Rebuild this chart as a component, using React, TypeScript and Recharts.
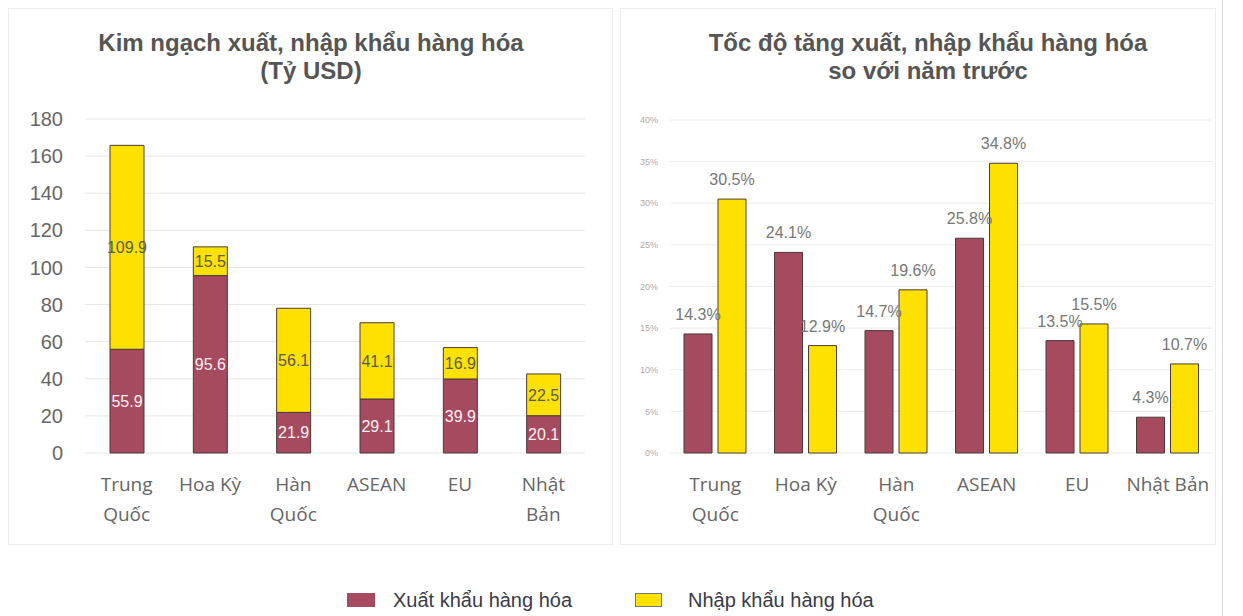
import { Bar, BarChart, CartesianGrid, LabelList, XAxis, YAxis } from 'recharts';

const categories = ['Trung Quốc', 'Hoa Kỳ', 'Hàn Quốc', 'ASEAN', 'EU', 'Nhật Bản'];
const leftTickLines = [['Trung', 'Quốc'], ['Hoa Kỳ'], ['Hàn', 'Quốc'], ['ASEAN'], ['EU'], ['Nhật', 'Bản']];
const rightTickLines = [['Trung', 'Quốc'], ['Hoa Kỳ'], ['Hàn', 'Quốc'], ['ASEAN'], ['EU'], ['Nhật Bản']];

// Kim ngạch (Tỷ USD)
const exportValue = [55.9, 95.6, 21.9, 29.1, 39.9, 20.1];
const importValue = [109.9, 15.5, 56.1, 41.1, 16.9, 22.5];

// Tốc độ tăng so với năm trước (%)
const exportGrowth = [14.3, 24.1, 14.7, 25.8, 13.5, 4.3];
const importGrowth = [30.5, 12.9, 19.6, 34.8, 15.5, 10.7];

const valueTicks = [0, 20, 40, 60, 80, 100, 120, 140, 160, 180];
const growthTicks = [0, 5, 10, 15, 20, 25, 30, 35, 40];

const RED = '#a64a60';
const YELLOW = '#ffe100';
const OUTLINE = '#4a3a3a';
const AXIS_TEXT = '#666';
const CAT_FONT = '"Open Sans", "DejaVu Sans", sans-serif';
const ARIAL = '"Liberation Sans", Arial, sans-serif';

const valueData = categories.map((name, i) => ({
    name,
    exportValue: exportValue[i],
    importValue: importValue[i],
}));

const growthData = categories.map((name, i) => ({
    name,
    exportGrowth: exportGrowth[i],
    importGrowth: importGrowth[i],
}));

const CategoryTick = ({ x, y, payload, lines }: any) => {
    const parts: string[] = lines[payload.index] ?? [payload.value];
    return (
        <text
            x={x}
            y={y}
            textAnchor='middle'
            fill={AXIS_TEXT}
            style={{ fontFamily: CAT_FONT, fontSize: 19 }}
        >
            {parts.map((p) => (
                <tspan key={p} x={x} dy={30}>
                    {p}
                </tspan>
            ))}
        </text>
    );
};

const titleStyle = {
    position: 'absolute' as const,
    textAlign: 'center' as const,
    fontFamily: ARIAL,
    fontWeight: 700,
    fontSize: 24,
    lineHeight: '28px',
    color: '#555',
    whiteSpace: 'nowrap' as const,
};

const panelStyle = {
    position: 'absolute' as const,
    top: 8,
    height: 537,
    border: '1px solid #ececec',
    boxSizing: 'border-box' as const,
};

const legendText = {
    position: 'absolute' as const,
    top: 588,
    fontFamily: ARIAL,
    fontSize: 20,
    lineHeight: '24px',
    color: '#3a3a48',
    whiteSpace: 'nowrap' as const,
};

export default function App() {
    return (
        <div
            style={{
                position: 'absolute',
                left: 0,
                top: 0,
                width: 1243,
                height: 616,
                background: '#fff',
                overflow: 'hidden',
            }}
        >
            <div style={{ ...panelStyle, left: 8, width: 605 }} />
            <div style={{ ...panelStyle, left: 620, width: 596 }} />
            <div style={{ position: 'absolute', left: 1222, top: 0, width: 1, height: 616, background: '#d8d8d8' }} />

            <div style={{ ...titleStyle, left: 0, width: 622, top: 29 }}>
                Kim ngạch xuất, nhập khẩu hàng hóa
                <br />
                (Tỷ USD)
            </div>
            <div style={{ ...titleStyle, left: 620, width: 616, top: 29 }}>
                Tốc độ tăng xuất, nhập khẩu hàng hóa
                <br />
                so với năm trước
            </div>

            <div style={{ position: 'absolute', left: 0, top: 0 }}>
                <BarChart
                    width={620}
                    height={545}
                    data={valueData}
                    margin={{ top: 119, right: 35, bottom: 32, left: 0 }}
                    barSize={34}
                >
                    <CartesianGrid vertical={false} stroke='#e6e6e6' />
                    <XAxis
                        dataKey='name'
                        axisLine={false}
                        tickLine={false}
                        height={60}
                        interval={0}
                        tick={(props: any) => <CategoryTick {...props} lines={leftTickLines} />}
                    />
                    <YAxis
                        domain={[0, 180]}
                        ticks={valueTicks}
                        width={85}
                        axisLine={false}
                        tickLine={false}
                        tickMargin={16}
                        tick={{ fill: AXIS_TEXT, fontSize: 20, fontFamily: ARIAL }}
                    />
                    <Bar dataKey='exportValue' stackId='a' fill={RED} stroke={OUTLINE} strokeWidth={1} isAnimationActive={false}>
                        <LabelList
                            dataKey='exportValue'
                            position='center'
                            fill='#fff0f4'
                            style={{ fontSize: 16, fontFamily: ARIAL }}
                        />
                    </Bar>
                    <Bar dataKey='importValue' stackId='a' fill={YELLOW} stroke={OUTLINE} strokeWidth={1} isAnimationActive={false}>
                        <LabelList
                            dataKey='importValue'
                            position='center'
                            fill='#5a5a5a'
                            style={{ fontSize: 16, fontFamily: ARIAL }}
                        />
                    </Bar>
                </BarChart>
            </div>

            <div style={{ position: 'absolute', left: 620, top: 0 }}>
                <BarChart
                    width={623}
                    height={545}
                    data={growthData}
                    margin={{ top: 120, right: 30, bottom: 32, left: 0 }}
                    barSize={28}
                    barGap={6}
                >
                    <CartesianGrid vertical={false} stroke='#ececec' />
                    <XAxis
                        dataKey='name'
                        axisLine={false}
                        tickLine={false}
                        height={60}
                        interval={0}
                        tick={(props: any) => <CategoryTick {...props} lines={rightTickLines} />}
                    />
                    <YAxis
                        domain={[0, 40]}
                        ticks={growthTicks}
                        width={50}
                        axisLine={false}
                        tickLine={false}
                        tickMargin={6}
                        tickFormatter={(v) => `${v}%`}
                        tick={{ fill: '#aaa', fontSize: 9, fontFamily: ARIAL }}
                    />
                    <Bar dataKey='exportGrowth' fill={RED} stroke={OUTLINE} strokeWidth={1} isAnimationActive={false}>
                        <LabelList
                            dataKey='exportGrowth'
                            position='top'
                            offset={14}
                            fill='#777'
                            formatter={(v: any) => `${Number(v).toFixed(1)}%`}
                            style={{ fontSize: 16, fontFamily: ARIAL }}
                        />
                    </Bar>
                    <Bar dataKey='importGrowth' fill={YELLOW} stroke={OUTLINE} strokeWidth={1} isAnimationActive={false}>
                        <LabelList
                            dataKey='importGrowth'
                            position='top'
                            offset={14}
                            fill='#777'
                            formatter={(v: any) => `${Number(v).toFixed(1)}%`}
                            style={{ fontSize: 16, fontFamily: ARIAL }}
                        />
                    </Bar>
                </BarChart>
            </div>

            <span
                style={{ position: 'absolute', left: 347, top: 593, width: 28, height: 14, background: RED }}
            />
            <span style={{ ...legendText, left: 393 }}>Xuất khẩu hàng hóa</span>
            <span
                style={{
                    position: 'absolute',
                    left: 635,
                    top: 593,
                    width: 27,
                    height: 14,
                    background: YELLOW,
                    border: '1px solid #777',
                    boxSizing: 'border-box',
                }}
            />
            <span style={{ ...legendText, left: 688 }}>Nhập khẩu hàng hóa</span>
        </div>
    );
}
